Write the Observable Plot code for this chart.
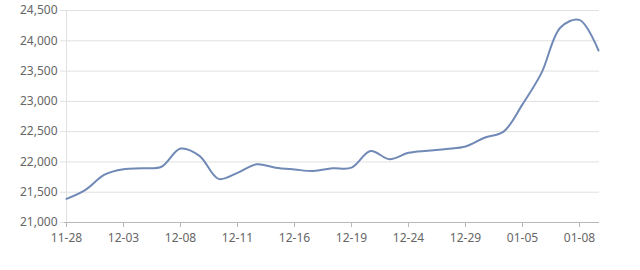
<!DOCTYPE html>
<html><head><meta charset="utf-8">
<script src="https://cdn.jsdelivr.net/npm/d3@7"></script>
<script src="https://cdn.jsdelivr.net/npm/@observablehq/plot@0.6"></script>
<style>body{margin:0;background:#fff}</style>
</head><body><div id="chart"></div>
<script>
const dates = ["11-28","11-30","12-01","12-03","12-05","12-06","12-08","12-09","12-10","12-11","12-13","12-14","12-16","12-17","12-18","12-19","12-21","12-22","12-24","12-26","12-27","12-29","12-30","01-03","01-05","01-06","01-07","01-08","01-09"];
const prices = [21390,21540,21790,21880,21895,21920,22220,22100,21720,21820,21960,21905,21875,21850,21895,21905,22180,22045,22150,22185,22215,22255,22400,22500,22950,23470,24220,24345,23840];
const xTicks = ["11-28","12-03","12-08","12-11","12-16","12-19","12-24","12-29","01-05","01-08"];
const yTicks = [21000,21500,22000,22500,23000,23500,24000,24500];
const data = dates.map((d, i) => ({date: d, price: prices[i]}));
const chart = Plot.plot({
  width: 640, height: 270,
  marginLeft: 64, marginRight: 41, marginTop: 10, marginBottom: 48,
  style: {fontFamily: "Noto Sans", fontSize: "12px", color: "#666", background: "#fff"},
  x: {type: "point", domain: dates, padding: 0},
  y: {domain: [21000, 24500]},
  marks: [
    Plot.gridY(yTicks, {stroke: "#e0e0e0", strokeOpacity: 1}),
    Plot.axisY(yTicks, {tickFormat: d3.format(","), tickSize: 4, stroke: "#e0e0e0", strokeOpacity: 1, tickPadding: 3, fill: "#666", label: null}),
    Plot.ruleX([dates[0]], {stroke: "#e0e0e0"}),
    Plot.ruleY([21000], {stroke: "#b8b8b8"}),
    Plot.axisX(xTicks, {tickSize: 5, stroke: "#b8b8b8", strokeOpacity: 1, tickPadding: 6, fill: "#666", label: null}),
    Plot.line(data, {x: "date", y: "price", curve: "catmull-rom", stroke: "#7089b6", strokeWidth: 2})
  ]
});
document.getElementById("chart").appendChild(chart);
</script>
</body></html>
